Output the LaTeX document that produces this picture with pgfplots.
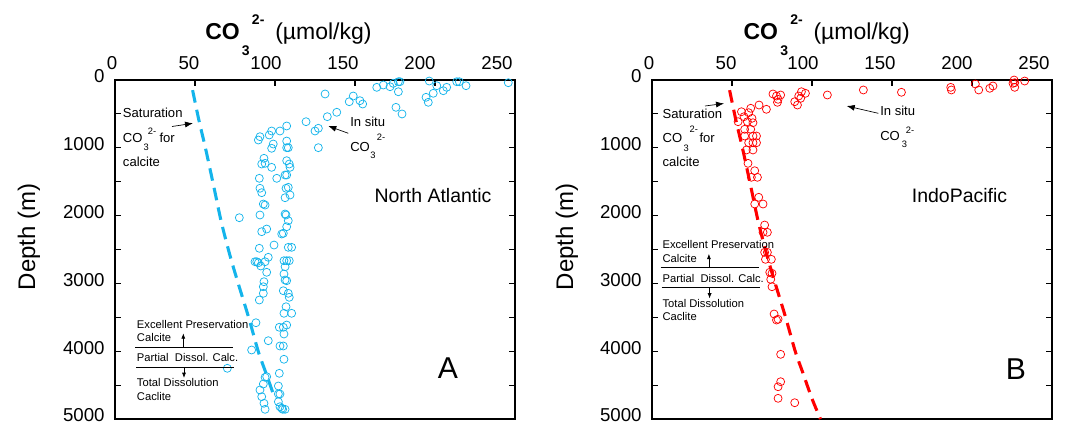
\documentclass[border=0pt]{standalone}
\usepackage{fontspec}
\setmainfont{Liberation Sans}
\usepackage{pgfplots}
\pgfplotsset{compat=1.18}
\usetikzlibrary{arrows.meta}
\definecolor{cyanpt}{RGB}{20,180,235}
\definecolor{redpt}{RGB}{255,0,0}
\newcommand\satf{\fontsize{9.8pt}{11pt}\selectfont}
\newcommand\subf{\fontsize{7pt}{8pt}\selectfont}
\newcommand\legf{\fontsize{8.4pt}{10pt}\selectfont}
\newcommand\titf{\fontsize{17.25pt}{20pt}\selectfont}
\newcommand\titsf{\fontsize{10.5pt}{12pt}\selectfont}
\pgfplotsset{panel/.style={
  scale only axis, width=300pt, height=254.25pt,
  xmin=0, xmax=250, ymin=0, ymax=5000, y dir=reverse,
  xtick={0,50,...,250}, ytick={0,1000,...,5000}, minor ytick={500,1500,2500,3500,4500},
  xtick pos=right, xticklabel pos=right,
  ytick pos=both, yticklabel pos=left,
  tick align=inside,
  major tick length=4.5pt, minor tick length=4.5pt,
  axis line style={line width=0.8pt},
  every tick/.style={black, line width=0.8pt},
  every minor tick/.style={black, line width=0.8pt},
  ticklabel style={font=\fontsize{14pt}{16pt}\selectfont},
  xticklabel style={yshift=4.5pt, xshift={-2.25pt-2.25pt*\ticknum}},
  yticklabel style={xshift=-4.3pt, yshift=2.6pt},
  /pgf/number format/assume math mode=true,
  /pgf/number format/1000 sep={},
  scaled ticks=false,
  clip=false,
}}
\begin{document}
\begin{tikzpicture}
\path[use as bounding box] (0,0) rectangle (813pt,-318.75pt);
% ---------------- Panel A ----------------
\begin{axis}[panel, at={(86.25pt,-60pt)}, anchor=north west]
\addplot[cyanpt, line width=2.3pt, dash pattern=on 9.5pt off 5.5pt, smooth, no marks] coordinates {
(48.5,150) (52.5,600) (56.5,1000) (62,1600) (66.5,2100) (72,2600) (77,3000) (83.5,3500) (89.5,4000) (94,4300) (100,4700)};
\addplot[only marks, mark=o, mark size=3pt, cyanpt, mark options={line width=0.55pt}] coordinates {
(245.8,40) (213.6,25) (215.2,25) (219.4,84) (196.4,15) (201.1,84) (207.3,108) (205.2,158) (198.9,196) (194.4,255) (195.8,329) (177.1,25) (178.1,25) (173.9,49) (171.9,99) (167.7,74) (163.6,108) (177.1,173) (175.6,403) (179.4,501) (148.9,236) (146.4,320) (153.1,305) (154.8,354) (131.3,206) (138.6,476) (132.7,541) (119.4,615) (127.1,712) (125,752) (127.1,998)
(107.3,678) (103.1,752) (97.9,752) (96.4,811) (90.6,836) (89.6,885) (98.9,944) (97.9,1007) (107.3,900) (107.3,998) (108.3,998) (93.1,1155) (93.8,1229) (91.7,1239) (97.9,1288) (107.3,1190) (108.9,1239) (109.4,1288) (107.3,1401) (106.3,1401) (101.1,1450) (90.2,1450) (90.6,1597) (91.7,1662) (108.3,1583) (106.9,1597) (109.4,1696) (106.3,1736) (92.7,1829) (93.8,1844) (106.3,1976) (106.9,1991) (90.6,1991) (77.7,2031) (108.3,2075) (94.8,2198) (91.7,2237) (107.3,2164) (105.2,2261) (104.2,2271) (90.2,2482) (99.4,2434) (108.3,2468) (110.4,2468)
(95.8,2615) (93.8,2680) (88.6,2680) (87.5,2680) (89.6,2695) (91.1,2743) (94.8,2836) (93.1,2975) (92.7,3049) (92.7,3146) (90.2,3245) (105.6,2665) (107.3,2665) (108.9,2665) (106.3,2754) (105.6,2861) (106.3,2950) (107.3,2960) (105.2,3108) (108.3,3146) (108.9,3205) (106.9,3344) (105.6,3441) (110.4,3441) (102.7,3647) (105.2,3647) (107.3,3614) (105.6,3746) (88.1,3580) (95.8,3845) (103.1,3923) (105.2,3923) (85.4,3982) (105.6,4119) (70.2,4252) (102.7,4326) (93.8,4385) (94.8,4376) (92.7,4484) (102.1,4513) (90.6,4572) (102.1,4631) (103.1,4631) (91.7,4671) (102.1,4745) (93.1,4768) (103.1,4819) (104.2,4842) (106.3,4857) (104.8,4857) (93.8,4857)};
\end{axis}
% ---------------- Panel B ----------------
\begin{axis}[panel, at={(489pt,-60pt)}, anchor=north west]
\addplot[redpt, line width=2.3pt, dash pattern=on 9.5pt off 5.5pt, smooth, no marks] coordinates {
(48.5,150) (52.5,600) (56.5,1000) (62,1600) (66.5,2100) (72,2600) (77,3000) (83.5,3500) (89.5,4000) (94,4300) (100,4700) (105.3,5000)};
\addplot[only marks, mark=o, mark size=3pt, redpt, mark options={line width=0.55pt}] coordinates {
(232.9,15) (226.3,0) (226.7,40) (225.6,49) (226.7,108) (213.1,88) (211.1,122) (202.1,59) (204.2,147) (186.7,108) (187.1,147) (155.9,181) (132.1,147) (109.6,221) (93.4,173) (95.9,196) (91.7,236) (89.2,320) (90.9,369) (92.9,270) (75.6,206) (77.8,236) (80.4,221) (78.8,285) (78.4,329) (66.9,369) (71.5,432) (61.7,417) (60.4,482) (55.9,468) (53.8,615) (57.5,541) (59.6,615) (62.5,565) (63.1,630) (57.9,727) (61.7,727) (57.9,826) (63.1,826) (65.3,826) (60.4,925) (63.1,925) (65.3,925) (59,1032) (63.1,1032) (60,1229) (64.2,1338) (62.1,1435) (65.9,1435) (66.7,1730) (64.2,1829) (69.4,1829) (70.4,2139) (69.4,2246) (72.1,2246) (70.4,2541) (72.1,2541) (70.9,2645) (74.6,2645) (73.6,2836) (75,2851) (74.2,2940) (75,3049) (76.3,3451) (77.8,3540) (78.8,3529) (80.4,4046) (80.4,4450) (78.8,4524) (78.8,4695) (89.2,4760)};
\end{axis}
% ---------------- Annotations (pixel-based scope) ----------------
\begin{scope}[x=0.75pt,y=-0.75pt, every node/.style={inner sep=0pt}]
% titles
\foreach \dx in {0,538.3}{
  \node[anchor=base west, font=\titf\bfseries] at (205+\dx,39.3) {CO};
  \node[anchor=base west, font=\titsf\bfseries] at (241.7+\dx,55) {3};
  \node[anchor=base west, font=\titsf\bfseries] at (251.7+\dx,24) {2-};
  \node[anchor=base west, font=\titf] at (275+\dx,39.3) {(µmol/kg)};
}
% y labels
\node[rotate=90, anchor=base, font=\fontsize{18pt}{20pt}\selectfont] at (35,236.7) {Depth (m)};
\node[rotate=90, anchor=base, font=\fontsize{18pt}{20pt}\selectfont] at (573,236.7) {Depth (m)};
% Panel A annotations
\node[anchor=base west, font=\satf] at (122.7,117.6) {Saturation};
\node[anchor=base west, font=\satf] at (122.7,142.7) {CO};
\node[anchor=base west, font=\subf] at (143.3,150) {3};
\node[anchor=base west, font=\subf] at (147.7,134.3) {2-};
\node[anchor=base west, font=\satf] at (159.3,142.7) {for};
\node[anchor=base west, font=\satf] at (122.7,166.3) {calcite};
\draw[line width=0.5pt, -{Latex[length=6pt,width=4.5pt]}] (172,126.5) -- (193,123.3);
\node[anchor=base west, font=\satf] at (350,126) {In situ};
\node[anchor=base west, font=\satf] at (350,151) {CO};
\node[anchor=base west, font=\subf] at (370,158.3) {3};
\node[anchor=base west, font=\subf] at (376.7,140.7) {2-};
\draw[line width=0.5pt, -{Latex[length=6pt,width=4.5pt]}] (348.3,133.3) -- (328.3,126);
\node[font=\fontsize{14.6pt}{16pt}\selectfont] at (433,196) {North Atlantic};
\node[font=\fontsize{22.6pt}{24pt}\selectfont] at (448,368) {A};
% Panel B annotations
\node[anchor=base west, font=\satf] at (662.3,118.3) {Saturation};
\node[anchor=base west, font=\satf] at (662.3,142.7) {CO};
\node[anchor=base west, font=\subf] at (683.3,151.7) {3};
\node[anchor=base west, font=\subf] at (689.3,132.7) {2-};
\node[anchor=base west, font=\satf] at (699.3,142.7) {for};
\node[anchor=base west, font=\satf] at (662.3,166.8) {calcite};
\draw[line width=0.5pt, -{Latex[length=6pt,width=4.5pt]}] (705,106) -- (724,103.5);
\node[anchor=base west, font=\satf] at (880,115.5) {In situ};
\node[anchor=base west, font=\satf] at (880,140.7) {CO};
\node[anchor=base west, font=\subf] at (901.7,147.3) {3};
\node[anchor=base west, font=\subf] at (905.7,133.3) {2-};
\draw[line width=0.5pt, -{Latex[length=6pt,width=4.5pt]}] (878.3,113.3) -- (846.7,106);
\node[font=\fontsize{14.6pt}{16pt}\selectfont] at (959.5,196) {IndoPacific};
\node[font=\fontsize{22.6pt}{24pt}\selectfont] at (1016,369) {B};
% preservation legends
\foreach \dx/\dy in {0/0, 525.6/-79.5}{
  \begin{scope}[shift={(\dx,\dy)}]
  \node[anchor=base west, font=\legf] at (136.7,328.3) {Excellent Preservation};
  \node[anchor=base west, font=\legf] at (136.7,341.7) {Calcite};
  \draw[line width=0.7pt] (135,347.3) -- (233.3,347.3);
  \node[anchor=base west, font=\legf] at (136.7,361.7) {Partial\ \ Dissol. Calc.};
  \draw[line width=0.7pt] (136,367.3) -- (234,367.3);
  \node[anchor=base west, font=\legf] at (136.7,386.7) {Total Dissolution};
  \node[anchor=base west, font=\legf] at (136.7,400) {Caclite};
  \draw[line width=0.5pt, -{Latex[length=4pt,width=3pt]}] (183.3,347.3) -- (183.3,333.3);
  \draw[line width=0.5pt, -{Latex[length=4pt,width=3pt]}] (184,367.3) -- (184,378);
  \end{scope}
}
\end{scope}
\end{tikzpicture}
\end{document}
